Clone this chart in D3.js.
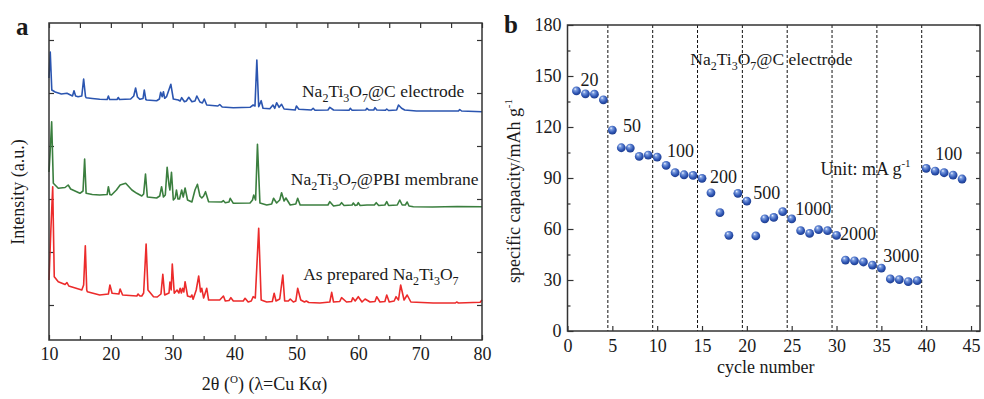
<!DOCTYPE html>
<html>
<head>
<meta charset="utf-8">
<script src="https://cdn.jsdelivr.net/npm/d3@7"></script>
<style>
  body { margin: 0; background: #fff; }
  svg text { font-family: "Liberation Serif", "Times New Roman", serif; fill: #1a1a1a; }
  .tick text { font-size: 18px; }
  .tick line { stroke: #333; stroke-width: 1.2; }
</style>
</head>
<body>
<div id="wrapper"></div>
<script>
// ---- panel a: XRD patterns, [2theta, intensity a.u.]
const electrode = [[10.0,262],[10.2,288],[10.45,250],[11.0,248],[12.0,246],[12.9,246.7],[13.8,244],[14.04,249.3],[14.3,244],[14.7,243.3],[15.3,244],[15.6,261],[15.9,243.5],[16.0,242.3],[17.0,241.5],[18.2,240.7],[19.4,240.5],[19.6,244],[19.8,240.5],[21.0,240.5],[21.2,242.5],[21.4,240.5],[23.2,241],[23.7,244],[24.0,252],[24.3,243],[24.7,240.7],[25.2,241.5],[25.4,250],[25.65,240.5],[25.8,240],[27.4,239.3],[27.85,241],[28.05,247.7],[28.3,243.3],[28.5,248.3],[28.7,241.7],[29.0,243.3],[29.7,255.7],[30.1,241],[30.9,240],[31.2,239],[31.45,242.3],[31.9,238.3],[32.2,239],[32.6,242.7],[33.1,238.3],[33.6,239],[33.9,244],[34.4,238],[34.8,237],[35.1,241],[35.5,235],[37.3,234],[37.6,235.5],[38.0,233],[39.8,232.3],[42.5,232.7],[43.0,235],[43.3,234],[43.6,280],[43.9,233.3],[44.3,239.3],[44.6,231.7],[45.7,231.3],[46.2,235],[46.5,231.7],[46.8,237.3],[47.2,232.7],[47.6,235.7],[48.0,231],[49.8,230],[50.0,234],[50.4,230.7],[52.4,230],[52.7,231.7],[53.0,229.7],[55.1,230],[55.4,232.7],[56.0,230],[58.5,229.7],[58.7,231.7],[59.0,229.7],[61.2,230],[61.4,231.7],[61.7,230],[62.5,230],[62.7,232.3],[63.0,230],[64.4,229.7],[64.6,231],[64.9,229.5],[66.2,230],[66.5,235],[67.0,231.7],[67.5,230],[69.4,229],[72,229],[76.2,229],[76.4,230.5],[76.7,229],[80,228.3]];

const membrane = [[10.0,168],[10.2,190],[10.43,218.3],[10.7,156.7],[11.5,151.7],[12.6,152.5],[13.1,155],[13.5,151],[15.0,146.7],[15.5,149],[15.76,181],[16.0,146.7],[17.0,145.5],[18.2,145],[19.4,145.5],[19.6,153.3],[19.85,145.5],[20.1,145],[20.9,150],[21.5,155],[22.4,156.7],[23.4,150],[24.2,146.7],[25.0,144],[25.3,146],[25.6,166],[25.9,143],[27.4,142],[27.9,144],[28.2,153.3],[28.5,143],[28.8,145],[29.1,172.7],[29.4,155],[29.55,150],[29.8,167.7],[30.1,140],[30.4,142],[30.6,150],[30.85,141],[31.1,141],[31.45,150],[31.7,143],[32.0,152],[32.4,140],[33.1,138],[33.6,150],[34.0,155.7],[34.4,144],[34.7,142],[35.0,144],[35.3,148.3],[35.8,138.3],[37.9,138],[38.2,139.3],[38.5,137.3],[39.1,138],[39.3,141.7],[39.8,136.7],[42.5,137],[42.9,140],[43.1,145],[43.4,140],[43.7,195.7],[44.1,137],[45.2,135],[46.0,136],[46.3,141.7],[46.8,137],[47.3,140],[47.6,147.3],[48.0,139],[48.3,142],[49.0,135],[49.9,136],[50.2,141.7],[50.6,135],[55.1,135],[55.4,138.3],[56.0,134],[57.0,135],[57.3,137.3],[57.7,134.5],[59.0,135],[59.2,137],[59.5,134.5],[59.8,135],[60.0,137.3],[60.3,134.5],[61.4,135],[62.6,135],[62.9,137.3],[63.3,134.5],[64.3,135],[64.6,138.3],[64.9,134.5],[66.3,135],[66.7,140],[67.1,135],[67.6,135],[67.9,138],[68.2,134],[68.9,133.3],[72,133],[76,133.5],[80,133.3]];

const prepared = [[10.0,60],[10.3,110],[10.6,153.3],[10.85,63.3],[11.5,58.3],[12.6,55.5],[12.9,57.5],[13.2,54],[15.3,50],[15.6,55],[15.87,94.3],[16.1,50],[16.2,48.3],[18.2,45],[19.6,46],[19.85,55],[20.2,46.7],[21.3,46],[21.5,51],[21.9,45],[24.2,44],[24.4,46],[24.7,44],[25.0,44],[25.3,47],[25.7,96],[26.0,50],[26.9,43.3],[27.5,43],[28.1,46],[28.4,65.7],[28.7,45],[29.4,47],[29.55,58],[29.75,50],[29.93,76],[30.25,46.7],[30.7,50],[31.0,47],[31.2,51.7],[31.4,47],[31.6,51.7],[31.8,48],[32.0,58.3],[32.4,44],[32.9,43],[33.1,45],[33.3,40.7],[33.8,50],[34.2,64],[34.5,48],[34.7,51.7],[35.0,42],[35.5,51.7],[35.8,40],[37.6,40],[38.2,44],[38.5,39],[39.1,39.5],[39.4,42.3],[39.8,39],[41.4,39],[41.7,41.7],[42.2,38],[42.7,39],[43.0,43.3],[43.35,42],[43.9,111.7],[44.3,40],[45.2,38],[46.1,38.5],[46.4,46.7],[46.7,39],[47.3,41],[47.8,65],[48.1,39],[48.7,39],[49.0,41],[49.5,38],[49.9,39],[50.2,51.7],[50.7,40],[51.3,38],[51.6,39],[52,37.5],[53.8,37],[55.4,38],[55.7,47.7],[56.0,38],[57.0,38.5],[57.3,42.3],[58.1,38],[58.9,38.5],[59.1,42.3],[59.5,39],[60.0,43.3],[60.6,38],[61.1,41],[61.9,38],[62.7,38.5],[62.98,43.3],[63.5,38],[64.3,38.5],[64.6,45],[65.0,38],[65.8,39],[66.1,43.3],[66.5,40],[66.85,55],[67.4,40],[67.9,45],[68.5,38],[72.1,37],[75.7,37],[75.9,38],[76.2,37],[79.7,37.7],[80,40]];

const twoThetaTicks = [10, 20, 30, 40, 50, 60, 70, 80];
const intensityTicks = [35, 88, 141, 194, 247, 300];

// ---- panel b: rate capability
const cycles = d3.range(1, 45);
const capacity = [141.2,139.5,139.3,136.0,118.2,107.8,107.6,102.7,103.5,102.3,97.4,93.1,91.9,91.5,89.8,81.3,69.6,56.3,81.0,76.4,55.9,66.0,66.8,70.2,65.9,59.0,57.4,59.6,59.0,56.3,41.7,41.3,40.6,38.8,37.0,30.6,30.2,29.0,29.6,95.7,94.1,93.1,91.7,89.4];
const rateBreaks = [4.5, 9.5, 14.5, 19.5, 24.5, 29.5, 34.5, 39.5];
const rateLabels = ["20", "50", "100", "200", "500", "1000", "2000", "3000", "100"];
const rateLabelAt = [[1.45,144],[6.2,117.2],[11.1,102.3],[15.9,87],[20.7,77.6],[25.4,68.2],[30.4,53.5],[35.2,40.7],[41.0,100.5]];
const cycleTicks = d3.range(0, 46, 5);
const capacityTicks = d3.range(0, 181, 30);

// ---- svg
const svg = d3.select("#wrapper").append("svg")
  .attr("width", 984).attr("height", 399);

const grad = svg.append("defs").append("radialGradient")
  .attr("id", "ball").attr("cx", "45%").attr("cy", "40%").attr("r", "60%")
  .attr("fx", "35%").attr("fy", "28%");
grad.append("stop").attr("offset", "0%").attr("stop-color", "#f2f6ff");
grad.append("stop").attr("offset", "25%").attr("stop-color", "#7c9de0");
grad.append("stop").attr("offset", "70%").attr("stop-color", "#2f56b4");
grad.append("stop").attr("offset", "100%").attr("stop-color", "#1c3b8c");

// helper: text with chemical subscripts, parts as [text, isSub]
function chem(sel, parts) {
  parts.forEach(([t, sub], i) => {
    const prevSub = i > 0 && parts[i - 1][1];
    sel.append("tspan")
      .attr("font-size", sub ? 12 : null)
      .attr("dy", sub ? 5 : (prevSub ? -5 : null))
      .text(t);
  });
  return sel;
}
const nto = [["Na",0],["2",1],["Ti",0],["3",1],["O",0],["7",1]];

function styleAxis(g) {
  g.select(".domain").remove();
}

// ================= panel a =================
const a = { left: 49, top: 23, width: 433, height: 317 };
const xA = d3.scaleLinear().domain([10, 80]).range([0, a.width]);
const yA = d3.scaleLinear().domain([0, 317]).range([a.height, 0]);
const gA = svg.append("g").attr("transform", `translate(${a.left},${a.top})`);

gA.append("g").attr("transform", `translate(0,${a.height})`)
  .call(d3.axisBottom(xA).tickValues(twoThetaTicks).tickSize(-5).tickSizeOuter(0).tickPadding(7))
  .call(styleAxis);
gA.append("g").attr("transform", `translate(0,${a.height})`)
  .call(d3.axisBottom(xA).tickValues(d3.range(15, 80, 10)).tickSize(-4).tickSizeOuter(0).tickFormat(""))
  .call(styleAxis);
gA.append("g")
  .call(d3.axisTop(xA).tickValues(d3.range(10, 81, 5)).tickSize(-5).tickSizeOuter(0).tickFormat(""))
  .call(styleAxis);
gA.append("g")
  .call(d3.axisLeft(yA).tickValues(intensityTicks).tickSize(-5).tickSizeOuter(0).tickFormat(""))
  .call(styleAxis);
gA.append("g").attr("transform", `translate(${a.width},0)`)
  .call(d3.axisRight(yA).tickValues(intensityTicks).tickSize(-5).tickSizeOuter(0).tickFormat(""))
  .call(styleAxis);

const lineA = d3.line().x(d => xA(d[0])).y(d => yA(d[1]));
const patterns = [
  { data: electrode, color: "#2b55b0" },
  { data: membrane, color: "#3b7f3f" },
  { data: prepared, color: "#ec2b2b" },
];
gA.selectAll(".xrd").data(patterns).join("path")
  .attr("class", "xrd")
  .attr("d", d => lineA(d.data))
  .attr("fill", "none")
  .attr("stroke", d => d.color)
  .attr("stroke-width", 1.6)
  .attr("stroke-linejoin", "round");

gA.append("rect").attr("width", a.width).attr("height", a.height)
  .attr("fill", "none").attr("stroke", "#333").attr("stroke-width", 1.5);

// labels
chem(gA.append("text").attr("x", xA(50.9)).attr("y", yA(243)).attr("font-size", 17.5),
  nto.concat([["@C electrode", 0]]));
chem(gA.append("text").attr("x", xA(49.1)).attr("y", yA(155)).attr("font-size", 17.5),
  nto.concat([["@PBI membrane", 0]]));
chem(gA.append("text").attr("x", xA(51.1)).attr("y", yA(60)).attr("font-size", 17.5),
  [["As prepared ", 0]].concat(nto));

const xtA = gA.append("text").attr("x", a.width / 2 - 1).attr("y", 367)
  .attr("text-anchor", "middle").attr("font-size", 18);
xtA.append("tspan").text("2θ (");
xtA.append("tspan").attr("font-size", 11).attr("dy", -7).text("O");
xtA.append("tspan").attr("dy", 7).text(") (λ=Cu Kα)");

svg.append("text").attr("transform", "translate(24,192) rotate(-90)")
  .attr("text-anchor", "middle").attr("font-size", 18).text("Intensity (a.u.)");
svg.append("text").attr("x", 16).attr("y", 35).attr("font-size", 25)
  .attr("font-weight", "bold").text("a");

// ================= panel b =================
const b = { left: 567.5, top: 25, width: 412.5, height: 306 };
const xB = d3.scaleLinear().domain([0, 46]).range([0, b.width]);
const yB = d3.scaleLinear().domain([0, 180]).range([b.height, 0]);
const gB = svg.append("g").attr("transform", `translate(${b.left},${b.top})`);

gB.append("g").attr("transform", `translate(0,${b.height})`)
  .call(d3.axisBottom(xB).tickValues(cycleTicks).tickSize(-5).tickSizeOuter(0).tickPadding(8))
  .call(styleAxis);
gB.append("g")
  .call(d3.axisLeft(yB).tickValues(capacityTicks).tickSize(-6).tickSizeOuter(0).tickPadding(6))
  .call(styleAxis);
gB.append("g")
  .call(d3.axisLeft(yB).tickValues(d3.range(15, 180, 30)).tickSize(-3).tickSizeOuter(0).tickFormat(""))
  .call(styleAxis);
gB.append("g").attr("transform", `translate(${b.width},0)`)
  .call(d3.axisRight(yB).tickValues(d3.range(0, 181, 15)).tickSize(-4).tickSizeOuter(0).tickFormat(""))
  .call(styleAxis);

gB.selectAll(".brk").data(rateBreaks).join("line")
  .attr("class", "brk")
  .attr("x1", d => xB(d)).attr("x2", d => xB(d))
  .attr("y1", 0).attr("y2", b.height)
  .attr("stroke", "#111").attr("stroke-width", 1)
  .attr("stroke-dasharray", "3,2");

gB.append("rect").attr("width", b.width).attr("height", b.height)
  .attr("fill", "none").attr("stroke", "#333").attr("stroke-width", 1.5);

gB.selectAll(".pt").data(cycles).join("circle")
  .attr("class", "pt")
  .attr("cx", d => xB(d))
  .attr("cy", (d, i) => yB(capacity[i]))
  .attr("r", 4.4)
  .attr("fill", "url(#ball)");

gB.selectAll(".rate").data(rateLabels).join("text")
  .attr("class", "rate")
  .attr("x", (d, i) => xB(rateLabelAt[i][0]))
  .attr("y", (d, i) => yB(rateLabelAt[i][1]))
  .attr("font-size", 18)
  .text(d => d);

chem(gB.append("text").attr("x", xB(13.7)).attr("y", yB(156.4)).attr("font-size", 17.5),
  nto.concat([["@C electrode", 0]]));

const unit = gB.append("text").attr("x", xB(28.2)).attr("y", yB(91.7)).attr("font-size", 18);
unit.append("tspan").text("Unit: mA g");
unit.append("tspan").attr("font-size", 11).attr("dy", -8).text("-1");

gB.append("text").attr("x", b.width / 2 - 8).attr("y", 373)
  .attr("text-anchor", "middle").attr("font-size", 18).text("cycle number")
  .attr("transform", `translate(0,${-b.top})`);

const ytB = svg.append("text").attr("transform", "translate(520,191) rotate(-90)")
  .attr("text-anchor", "middle").attr("font-size", 18);
ytB.append("tspan").text("specific capacity/mAh g");
ytB.append("tspan").attr("font-size", 11).attr("dy", -8).text("-1");

svg.append("text").attr("x", 504).attr("y", 33).attr("font-size", 25)
  .attr("font-weight", "bold").text("b");
</script>
</body>
</html>
